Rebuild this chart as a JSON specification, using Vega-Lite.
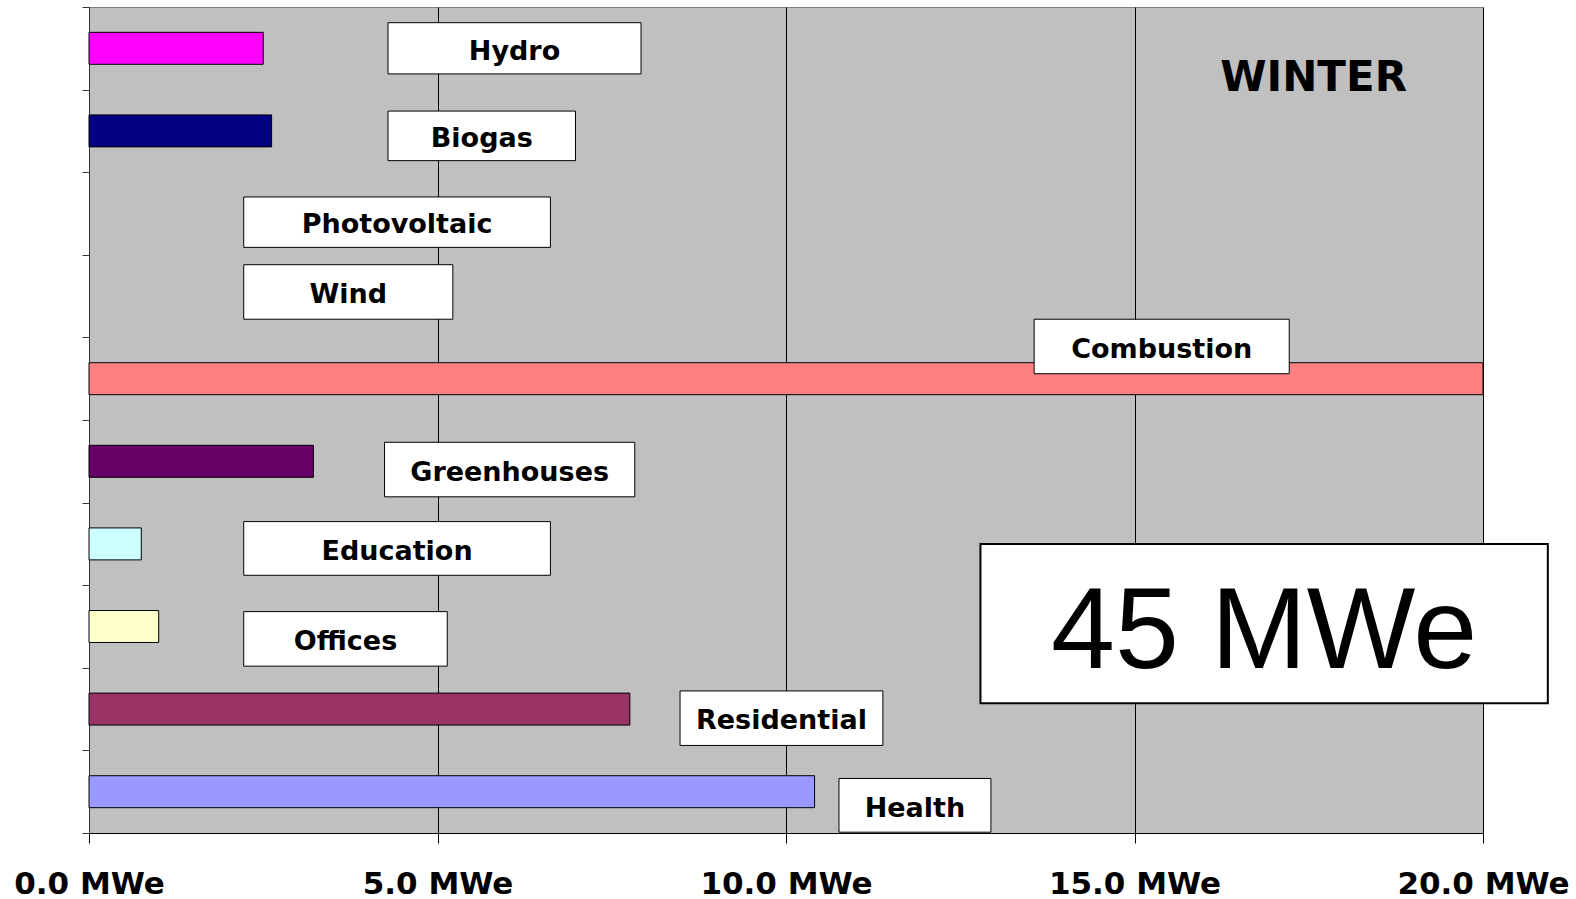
{
  "$schema": "https://vega.github.io/schema/vega-lite/v6.json",
  "width": 1394,
  "height": 826,
  "autosize": {"type": "none"},
  "padding": {"left": 89, "top": 7, "right": 93, "bottom": 66},
  "background": "white",
  "config": {"view": {"fill": "#C0C0C0", "stroke": "#808080", "strokeWidth": 1}},
  "datasets": {
    "bars": [
      {"source": "Hydro", "mwe": 2.5},
      {"source": "Biogas", "mwe": 2.62},
      {"source": "Photovoltaic", "mwe": 0},
      {"source": "Wind", "mwe": 0},
      {"source": "Combustion", "mwe": 20},
      {"source": "Greenhouses", "mwe": 3.22},
      {"source": "Education", "mwe": 0.75},
      {"source": "Offices", "mwe": 1.0},
      {"source": "Residential", "mwe": 7.76},
      {"source": "Health", "mwe": 10.41}
    ],
    "labels": [
      {"name": "Hydro", "x0": 4.29, "x1": 7.92, "y0": 0.19, "y1": 0.81, "cx": 6.105, "cy": 0.54},
      {"name": "Biogas", "x0": 4.29, "x1": 6.98, "y0": 1.26, "y1": 1.86, "cx": 5.635, "cy": 1.6},
      {"name": "Photovoltaic", "x0": 2.22, "x1": 6.62, "y0": 2.3, "y1": 2.91, "cx": 4.42, "cy": 2.645},
      {"name": "Wind", "x0": 2.22, "x1": 5.22, "y0": 3.12, "y1": 3.78, "cx": 3.72, "cy": 3.49},
      {"name": "Combustion", "x0": 13.56, "x1": 17.22, "y0": 3.78, "y1": 4.44, "cx": 15.39, "cy": 4.15},
      {"name": "Greenhouses", "x0": 4.24, "x1": 7.83, "y0": 5.27, "y1": 5.93, "cx": 6.035, "cy": 5.64},
      {"name": "Education", "x0": 2.22, "x1": 6.62, "y0": 6.23, "y1": 6.88, "cx": 4.42, "cy": 6.595},
      {"name": "Offices", "x0": 2.22, "x1": 5.14, "y0": 7.32, "y1": 7.98, "cx": 3.68, "cy": 7.69},
      {"name": "Residential", "x0": 8.48, "x1": 11.39, "y0": 8.28, "y1": 8.94, "cx": 9.935, "cy": 8.65},
      {"name": "Health", "x0": 10.76, "x1": 12.94, "y0": 9.34, "y1": 9.99, "cx": 11.85, "cy": 9.705}
    ],
    "total": [
      {"text": "45 MWe", "x0": 12.79, "x1": 20.93, "y0": 6.5, "y1": 8.43, "cx": 16.86, "cy": 7.58}
    ],
    "season": [
      {"text": "WINTER", "cx": 17.57, "cy": 0.86}
    ]
  },
  "layer": [
    {
      "data": {"name": "bars"},
      "mark": {"type": "bar", "strokeWidth": 1},
      "encoding": {
        "y": {"field": "source", "type": "nominal", "sort": null,
              "scale": {"paddingInner": 0.613, "paddingOuter": 0.3065}, "axis": null},
        "x": {"field": "mwe", "type": "quantitative",
              "scale": {"domain": [0, 20], "nice": false},
              "axis": {"values": [0, 5, 10, 15, 20],
                       "labelExpr": "format(datum.value, '.1f') + ' MWe'",
                       "labelFont": "DejaVu Sans", "labelFontWeight": "bold", "labelFontSize": 31,
                       "labelColor": "#000000", "labelPadding": 26, "labelFlush": false, "labelOverlap": false,
                       "tickSize": 10, "tickColor": "#000000", "tickWidth": 1,
                       "domainColor": "#000000", "domainWidth": 1,
                       "grid": true, "gridColor": "#000000", "gridWidth": 1, "gridOpacity": 1,
                       "title": null}},
        "stroke": {"condition": {"test": "datum.mwe > 0", "value": "#000000"}, "value": null},
        "color": {"field": "source", "type": "nominal",
                  "scale": {"domain": ["Hydro", "Biogas", "Photovoltaic", "Wind", "Combustion", "Greenhouses", "Education", "Offices", "Residential", "Health"],
                            "range": ["#FF00FF", "#000080", "#FFFF00", "#00FFFF", "#FF8080", "#660066", "#CCFFFF", "#FFFFCC", "#993366", "#9999FF"]},
                  "legend": null}
      }
    },
    {
      "data": {"name": "labels"},
      "mark": {"type": "rect", "fill": "#FFFFFF", "stroke": "#000000", "strokeWidth": 1},
      "encoding": {
        "x": {"field": "x0", "type": "quantitative"},
        "x2": {"field": "x1"},
        "y": {"field": "y0", "type": "quantitative",
              "scale": {"domain": [0, 10], "reverse": true, "nice": false},
              "axis": {"orient": "left", "values": [0, 1, 2, 3, 4, 5, 6, 7, 8, 9, 10],
                       "labels": false, "tickSize": 7, "tickColor": "#333333",
                       "domainColor": "#333333", "grid": false, "title": null}},
        "y2": {"field": "y1"}
      }
    },
    {
      "data": {"name": "labels"},
      "mark": {"type": "text", "font": "DejaVu Sans", "fontWeight": "bold", "fontSize": 27,
               "color": "#000000", "align": "center", "baseline": "middle"},
      "encoding": {
        "x": {"field": "cx", "type": "quantitative"},
        "y": {"field": "cy", "type": "quantitative",
              "scale": {"domain": [0, 10], "reverse": true, "nice": false}, "axis": null},
        "text": {"field": "name"}
      }
    },
    {
      "data": {"name": "total"},
      "mark": {"type": "rect", "fill": "#FFFFFF", "stroke": "#000000", "strokeWidth": 2},
      "encoding": {
        "x": {"field": "x0", "type": "quantitative"},
        "x2": {"field": "x1"},
        "y": {"field": "y0", "type": "quantitative",
              "scale": {"domain": [0, 10], "reverse": true, "nice": false}, "axis": null},
        "y2": {"field": "y1"}
      }
    },
    {
      "data": {"name": "total"},
      "mark": {"type": "text", "font": "Liberation Sans", "fontSize": 115,
               "color": "#000000", "align": "center", "baseline": "middle"},
      "encoding": {
        "x": {"field": "cx", "type": "quantitative"},
        "y": {"field": "cy", "type": "quantitative",
              "scale": {"domain": [0, 10], "reverse": true, "nice": false}, "axis": null},
        "text": {"field": "text"}
      }
    },
    {
      "data": {"name": "season"},
      "mark": {"type": "text", "font": "DejaVu Sans", "fontWeight": "bold", "fontSize": 42,
               "color": "#000000", "align": "center", "baseline": "middle"},
      "encoding": {
        "x": {"field": "cx", "type": "quantitative"},
        "y": {"field": "cy", "type": "quantitative",
              "scale": {"domain": [0, 10], "reverse": true, "nice": false}, "axis": null},
        "text": {"field": "text"}
      }
    }
  ],
  "resolve": {"scale": {"y": "independent"}}
}
